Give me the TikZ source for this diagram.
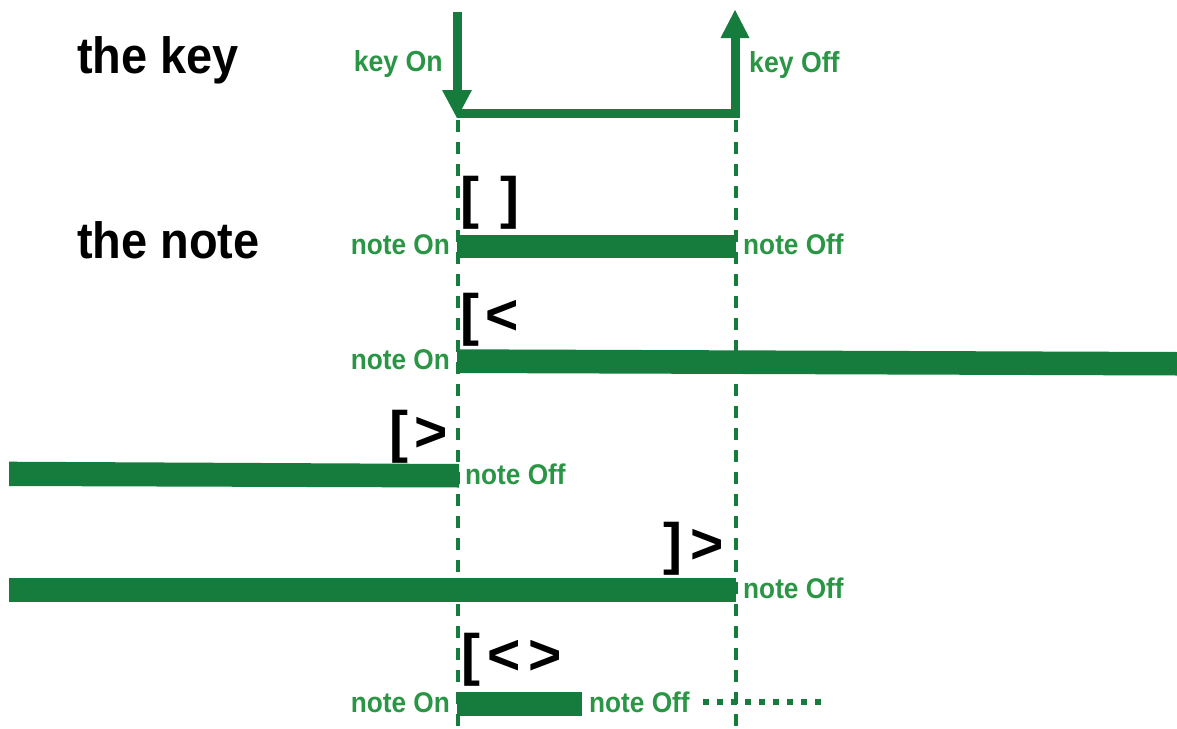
\documentclass[tikz,border=0pt]{standalone}
\usepackage{fontspec}
\usetikzlibrary{calc}
\newfontfamily\labfont{Liberation Sans Bold}[FakeStretch=0.92]
\newfontfamily\brkfont{Liberation Sans Bold}
\definecolor{bargreen}{HTML}{157C3E}
\definecolor{txtgreen}{HTML}{2A9645}
\tikzset{
  titletext/.style={font=\labfont\fontsize{51}{51}\selectfont, text=black, anchor=base west, inner sep=0pt},
  glab/.style={text=txtgreen, font=\labfont\fontsize{28.5}{28.5}\selectfont, inner sep=0pt},
  klab/.style={text=txtgreen, font=\labfont\fontsize{29}{29}\selectfont, inner sep=0pt},
  brk/.style={font=\brkfont\fontsize{57}{57}\selectfont, text=black, anchor=base west, inner sep=0pt},
  bar/.style={fill=bargreen, draw=none},
  guide/.style={draw=bargreen, line width=3.5pt, dash pattern=on 12pt off 10pt},
  keyline/.style={draw=bargreen, line width=9pt, line join=miter},
  dotline/.style={draw=bargreen, line width=6pt, dash pattern=on 6pt off 8pt},
}
\begin{document}
\begin{tikzpicture}[x=1pt,y=-1pt]
\useasboundingbox (0,0) rectangle (1177,728);

% guides
\coordinate (gLtop) at (458,120);
\coordinate (gLbot) at (458,728);
\coordinate (gRtop) at (736,120);
\coordinate (gRbot) at (736,728);
\draw[guide] (gLtop) -- (gLbot);
\draw[guide] (gRtop) -- (gRbot);

% the key
\coordinate (ktop) at (457,12);
\coordinate (konbase) at (457,90);
\coordinate (kontip) at (457,118);
\coordinate (kcornerL) at (457,113);
\coordinate (kcornerR) at (735,113);
\coordinate (koffbase) at (735,38);
\coordinate (kofftip) at (735,10);
\draw[keyline] (ktop) -- (konbase);
\fill[bargreen] ($(konbase)+(-15,0)$) -- ($(konbase)+(15,0)$) -- (kontip) -- cycle;
\draw[keyline] (kcornerL) -- (kcornerR) -- (koffbase);
\fill[bargreen] ($(koffbase)+(-14.5,0)$) -- ($(koffbase)+(14.5,0)$) -- (kofftip) -- cycle;

% bars
\fill[bar] (457,235) rectangle (736,258);
\fill[bar] (457,349.3) -- (1177,352) -- (1177,375.5) -- (457,373) -- cycle;
\fill[bar] (9,461.7) -- (459,464) -- (459,487.5) -- (9,486) -- cycle;
\fill[bar] (9,578) rectangle (736,601.5);
\fill[bar] (457,692) rectangle (582,716);

% dotted continuation
\coordinate (dotA) at (703,702);
\coordinate (dotB) at (823,702);
\draw[dotline] (dotA) -- (dotB);

% titles
\node[titletext] (tkey) at (77,73) {the key};
\node[titletext] (tnote) at (77,258) {the note};

% key labels
\node[klab, anchor=base east] (keyon) at (443,71) {key On};
\node[klab, anchor=base west] (keyoff) at (749,72) {key Off};

% note labels
\node[glab, anchor=base east] (on1) at (450,254) {note On};
\node[glab, anchor=base west] (off1) at (743,254) {note Off};
\node[glab, anchor=base east] (on2) at (450,369) {note On};
\node[glab, anchor=base west] (off3) at (465,484) {note Off};
\node[glab, anchor=base west] (off4) at (743,598) {note Off};
\node[glab, anchor=base east] (on5) at (450,712) {note On};
\node[glab, anchor=base west] (off5) at (589,712) {note Off};

% brackets
\node[brk] (b1) at (460.4,217.5) {[\hspace{21.3pt}]};
\node[brk] (b2) at (460.4,334.5) {[\hspace{6.3pt}<};
\node[brk] (b3) at (389.4,451.5) {[\hspace{6.3pt}>};
\node[brk] (b4) at (663.7,563.5) {]\hspace{8pt}>};
\node[brk] (b5) at (461.4,674.5) {[\hspace{7pt}<\hspace{8pt}>};
\end{tikzpicture}
\end{document}
